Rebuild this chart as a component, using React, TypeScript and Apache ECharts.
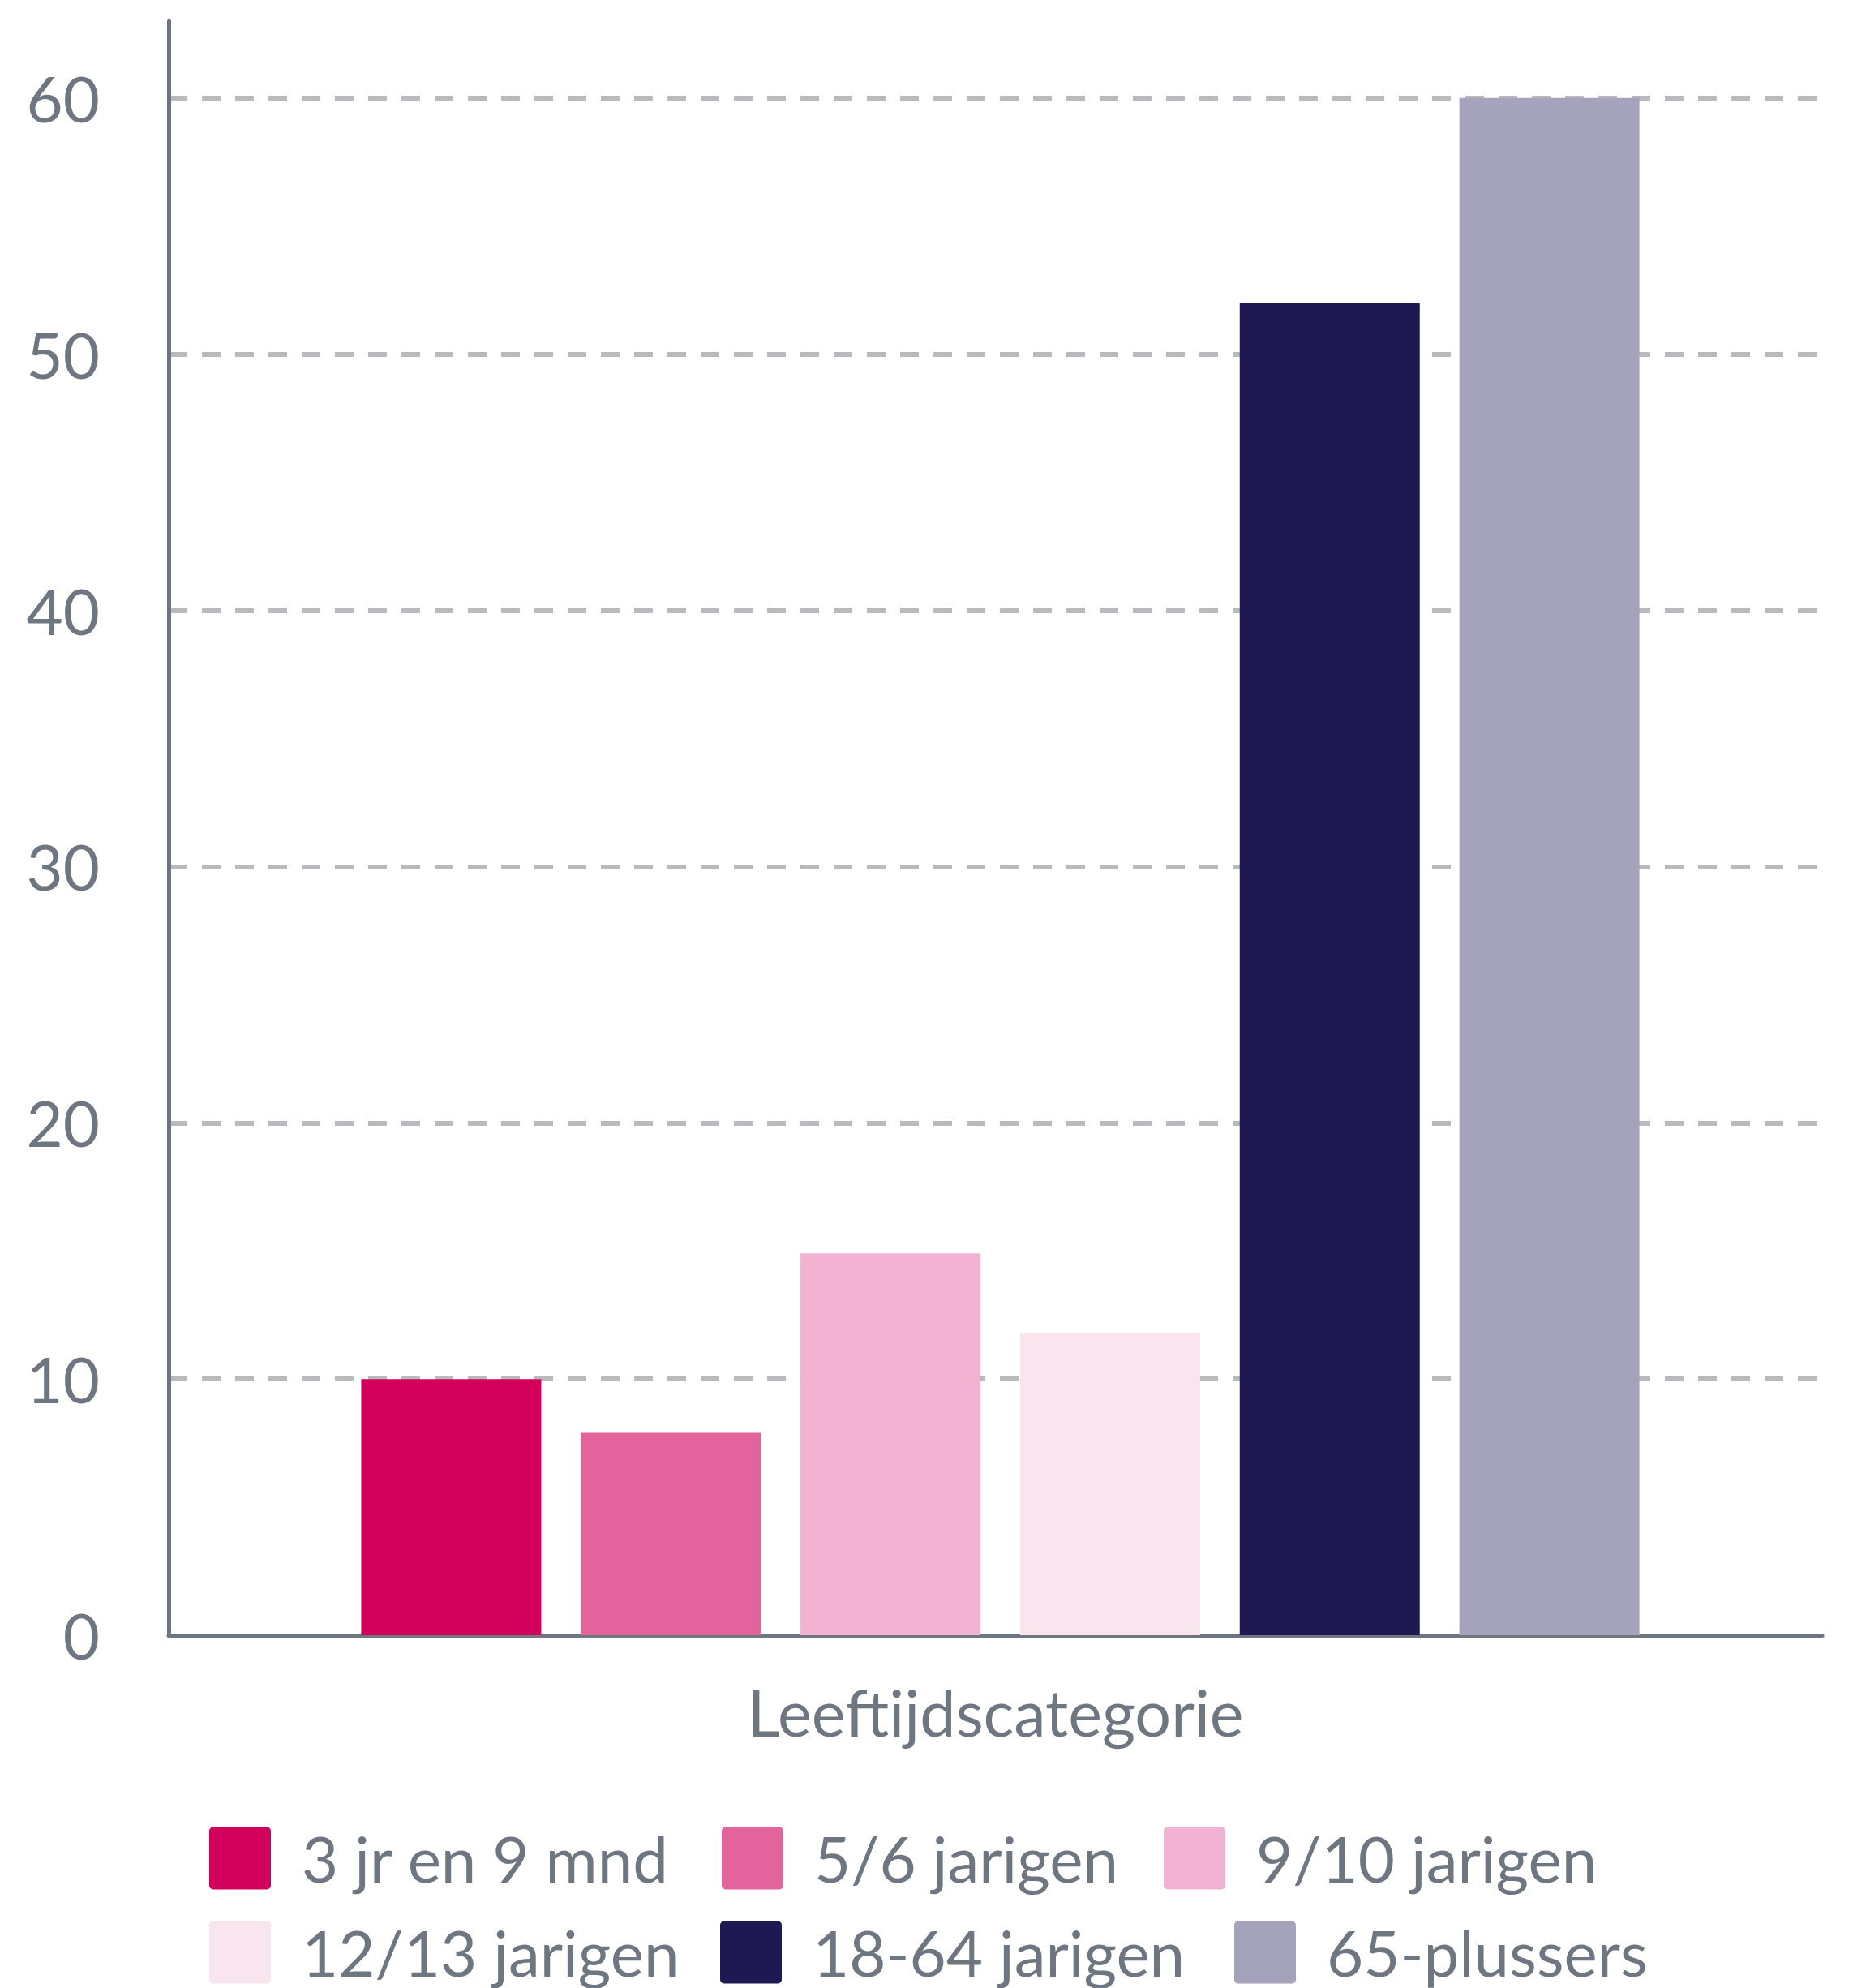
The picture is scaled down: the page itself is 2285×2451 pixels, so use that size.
import React, { useEffect, useRef } from "react";
import * as echarts from "echarts";

const categories = ["Leeftijdscategorie"];
const seriesNames = [
  "3 jr en 9 mnd",
  "5/6 jarigen",
  "9/10 jarigen",
  "12/13 jarigen",
  "18-64 jarigen",
  "65-plussers",
];
const seriesValues = [10, 7.9, 14.9, 11.8, 52, 60];
const seriesColors = ["#D1005A", "#E3649C", "#F1B3D1", "#F8E5EE", "#1E1853", "#A5A3BB"];
const yTicks = [0, 10, 20, 30, 40, 50, 60];

const legendPos = [
  { left: 258, top: 2252 },
  { left: 890, top: 2252 },
  { left: 1435, top: 2252 },
  { left: 258, top: 2368 },
  { left: 888, top: 2368 },
  { left: 1522, top: 2368 },
];

const AXIS = "#6D7680";
const TEXT = "#6E7781";
const FONT = "Lato";
const Y_MAX = 63;

export default function App() {
  const ref = useRef<HTMLDivElement>(null);
  useEffect(() => {
    if (!ref.current) return;
    const chart = echarts.init(ref.current, undefined, { renderer: "svg" });
    const iconPath =
      "path://M5,0H71A5,5,0,0,1,76,5V72A5,5,0,0,1,71,77H5A5,5,0,0,1,0,72V5A5,5,0,0,1,5,0Z";
    chart.setOption({
      animation: false,
      backgroundColor: "#ffffff",
      textStyle: { fontFamily: FONT },
      grid: [
        { left: 208, right: 38, top: 26, bottom: 435, containLabel: false, outerBoundsMode: "none" },
        { left: 214, right: 32, top: 26, bottom: 435, containLabel: false, outerBoundsMode: "none" },
      ],
      legend: seriesNames.map((n, i) => ({
        data: [n],
        left: legendPos[i].left,
        top: legendPos[i].top,
        padding: 0,
        itemWidth: 76,
        itemHeight: 77,
        icon: iconPath,
        selectedMode: false,
        textStyle: {
          fontSize: 78,
          color: TEXT,
          fontFamily: FONT,
          padding: [0, 0, 0, 33],
        },
      })),
      xAxis: [
        {
          type: "category",
          gridIndex: 0,
          data: categories,
          axisLine: { show: true, lineStyle: { color: AXIS, width: 5 } },
          axisTick: { show: false },
          axisLabel: { fontSize: 79, color: TEXT, fontFamily: FONT, margin: 55 },
        },
        {
          type: "category",
          gridIndex: 1,
          data: categories,
          show: false,
        },
      ],
      yAxis: [
        {
          type: "value",
          gridIndex: 0,
          min: 0,
          max: Y_MAX,
          interval: 10,
          axisLine: { show: true, lineStyle: { color: AXIS, width: 5 } },
          axisTick: { show: false },
          axisLabel: {
            fontSize: 78,
            color: TEXT,
            fontFamily: FONT,
            margin: 85,
            showMaxLabel: false,
            formatter: (v: number) => (yTicks.includes(v) ? String(v) : ""),
          },
          splitLine: {
            show: true,
            showMinLine: false,
            showMaxLine: false,
            lineStyle: { color: "#B8BABE", width: 6, type: [23, 18] },
          },
        },
        {
          type: "value",
          gridIndex: 1,
          min: 0,
          max: Y_MAX,
          interval: 10,
          show: false,
          splitLine: { show: false },
        },
      ],
      series: seriesNames.map((n, i) => ({
        name: n,
        type: "bar",
        xAxisIndex: 1,
        yAxisIndex: 1,
        data: [seriesValues[i]],
        barWidth: 222,
        barGap: "22%",
        itemStyle: { color: seriesColors[i] },
      })),
    });
    return () => chart.dispose();
  }, []);
  return (
    <div
      ref={ref}
      style={{ position: "absolute", left: 0, top: 0, width: 2285, height: 2451 }}
    />
  );
}
